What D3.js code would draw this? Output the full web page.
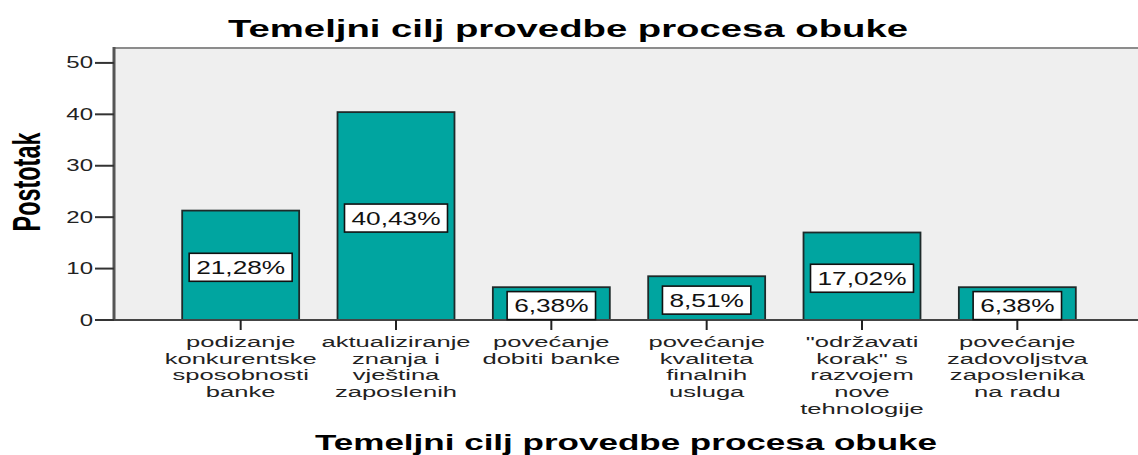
<!DOCTYPE html>
<html>
<head>
<meta charset="utf-8">
<script src="https://cdn.jsdelivr.net/npm/d3@7"></script>
<style>
  html, body { margin: 0; padding: 0; background: #fff; }
  svg { display: block; font-family: "Liberation Sans", Arial, sans-serif; }
</style>
</head>
<body>
<svg id="chart" width="1138" height="455"></svg>
<script>
// chart data
var title = "Temeljni cilj provedbe procesa obuke";
var yLabel = "Postotak";
var categories = [
  ["podizanje", "konkurentske", "sposobnosti", "banke"],
  ["aktualiziranje", "znanja i", "vještina", "zaposlenih"],
  ["povećanje", "dobiti banke"],
  ["povećanje", "kvaliteta", "finalnih", "usluga"],
  ["\"održavati", "korak\" s", "razvojem", "nove", "tehnologije"],
  ["povećanje", "zadovoljstva", "zaposlenika", "na radu"]
];
var values = [21.28, 40.43, 6.38, 8.51, 17.02, 6.38];
var yTicks = [0, 10, 20, 30, 40, 50];

var svg = d3.select("#chart");
var W = 1138, H = 455;
var plot = {left: 114, top: 48, right: 1138, bottom: 320};

// the source picture is stretched sideways, so text is too
var SX = 1.5;

var y = d3.scaleLinear().domain([0, 52.9]).range([plot.bottom, plot.top]);
var x = d3.scaleBand()
  .domain(d3.range(values.length))
  .range([163, 1095])
  .paddingInner(0.247)
  .paddingOuter(0.1235);

// plot background
svg.append("rect")
  .attr("x", plot.left).attr("y", plot.top)
  .attr("width", plot.right - plot.left).attr("height", plot.bottom - plot.top)
  .attr("fill", "#efefef");

svg.append("line")
  .attr("x1", plot.left).attr("x2", plot.right)
  .attr("y1", plot.top).attr("y2", plot.top)
  .attr("stroke", "#8c8c8c").attr("stroke-width", 2);

// bars
svg.selectAll(".bar").data(values).enter().append("rect")
  .attr("class", "bar")
  .attr("x", function (d, i) { return x(i); })
  .attr("y", function (d) { return y(d); })
  .attr("width", x.bandwidth())
  .attr("height", function (d) { return y(0) - y(d); })
  .attr("fill", "#00a5a0")
  .attr("stroke", "#1e2a2a")
  .attr("stroke-width", 1.8);

// y axis
var yAxis = svg.append("g");
yAxis.append("line")
  .attr("x1", plot.left).attr("x2", plot.left)
  .attr("y1", plot.top - 1).attr("y2", plot.bottom)
  .attr("stroke", "#555").attr("stroke-width", 3);
var yt = yAxis.selectAll(".yt").data(yTicks).enter().append("g")
  .attr("transform", function (d) { return "translate(0," + y(d) + ")"; });
yt.append("line")
  .attr("x1", 95).attr("x2", plot.left)
  .attr("stroke", "#333").attr("stroke-width", 2);
yt.append("text")
  .attr("transform", "translate(93,5.5) scale(" + SX + ",1)")
  .attr("text-anchor", "end")
  .attr("font-size", 16)
  .attr("fill", "#222")
  .text(function (d) { return d; });

// x axis
svg.append("line")
  .attr("x1", plot.left).attr("x2", plot.right)
  .attr("y1", plot.bottom).attr("y2", plot.bottom)
  .attr("stroke", "#444").attr("stroke-width", 2);

var xt = svg.selectAll(".xt").data(categories).enter().append("g")
  .attr("transform", function (d, i) { return "translate(" + (x(i) + x.bandwidth() / 2) + ",0)"; });
xt.append("line")
  .attr("y1", plot.bottom).attr("y2", plot.bottom + 10)
  .attr("stroke", "#222").attr("stroke-width", 2);
xt.each(function (lines) {
  var g = d3.select(this);
  lines.forEach(function (s, k) {
    g.append("text")
      .attr("transform", "translate(0," + (347 + k * 16.7) + ") scale(1.65,1)")
      .attr("text-anchor", "middle")
      .attr("font-size", 15.5)
      .attr("fill", "#222")
      .text(s);
  });
});

// value labels
var fmt = d3.format(".2f");
var lab = svg.selectAll(".lab").data(values).enter().append("g")
  .attr("transform", function (d, i) {
    return "translate(" + (x(i) + x.bandwidth() / 2) + "," + (y(d / 2) + 2) + ")";
  });
lab.append("text")
  .attr("transform", "translate(0,6.5) scale(" + SX + ",1)")
  .attr("text-anchor", "middle")
  .attr("font-size", 17.5)
  .attr("fill", "#111")
  .text(function (d) { return fmt(d).replace(".", ",") + "%"; });
lab.each(function () {
  var g = d3.select(this);
  var w = g.select("text").node().getComputedTextLength() * SX + 14;
  g.insert("rect", "text")
    .attr("x", -w / 2).attr("y", -14)
    .attr("width", w).attr("height", 28)
    .attr("fill", "#fff")
    .attr("stroke", "#111").attr("stroke-width", 1.6);
});

// titles
svg.append("text")
  .attr("x", W / 2 - 1).attr("y", 37)
  .attr("text-anchor", "middle")
  .attr("font-size", 23).attr("font-weight", "bold")
  .attr("textLength", 680).attr("lengthAdjust", "spacingAndGlyphs")
  .text(title);

svg.append("text")
  .attr("x", (plot.left + plot.right) / 2).attr("y", 450)
  .attr("text-anchor", "middle")
  .attr("font-size", 22).attr("font-weight", "bold")
  .attr("textLength", 622).attr("lengthAdjust", "spacingAndGlyphs")
  .text(title);

svg.append("text")
  .attr("transform", "translate(40,182) scale(1.65,1) rotate(-90)")
  .attr("text-anchor", "middle")
  .attr("font-size", 23).attr("font-weight", "bold")
  .attr("textLength", 99).attr("lengthAdjust", "spacingAndGlyphs")
  .text(yLabel);
</script>
</body>
</html>
